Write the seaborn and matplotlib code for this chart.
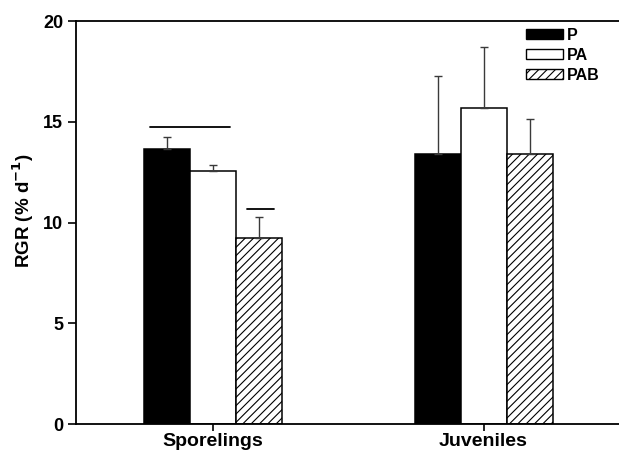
import numpy as np
import pandas as pd
import matplotlib
matplotlib.use("Agg")
import matplotlib.pyplot as plt
import seaborn as sns

stages = ["Sporelings", "Juveniles"]
treatments = ["P", "PA", "PAB"]
rgr_P = [13.65, 13.38]
rgr_PA = [12.54, 15.70]
rgr_PAB = [9.23, 13.42]
err_P = [0.61, 3.89]
err_PA = [0.33, 3.02]
err_PAB = [1.06, 1.73]
yticks = [0, 5, 10, 15, 20]
sig_y = [14.76, 10.67]

sns.set_theme(style="ticks")
plt.rcParams['font.family'] = ['Liberation Sans', 'DejaVu Sans']
plt.rcParams['font.weight'] = 'bold'
plt.rcParams['text.color'] = 'black'
plt.rcParams['axes.labelcolor'] = 'black'
plt.rcParams['xtick.color'] = 'black'
plt.rcParams['ytick.color'] = 'black'
plt.rcParams['hatch.linewidth'] = 0.8
plt.rcParams['mathtext.default'] = 'bf'

rows = []
for i, s in enumerate(stages):
    for t, vals in zip(treatments, [rgr_P, rgr_PA, rgr_PAB]):
        rows.append({"stage": s, "treat": t, "rgr": vals[i]})
df = pd.DataFrame(rows)
errs = {"P": err_P, "PA": err_PA, "PAB": err_PAB}

fig = plt.figure(figsize=(6.19, 4.53), dpi=100)
ax = fig.add_axes([0.1228, 0.064, 0.8772, 0.8896])

sns.barplot(data=df, x="stage", y="rgr", hue="treat", order=stages,
            hue_order=treatments, errorbar=None, width=0.51, ax=ax,
            palette={"P": "black", "PA": "white", "PAB": "white"},
            edgecolor="black", linewidth=1.1, saturation=1)

for cont, t in zip(ax.containers, treatments):
    xs = []
    ys = []
    for bar in cont:
        if t == "PAB":
            bar.set_hatch("////")
        xs.append(bar.get_x() + bar.get_width() / 2)
        ys.append(bar.get_height())
    e = errs[t]
    ax.errorbar(xs, ys, yerr=[np.zeros(len(e)), e], fmt="none",
                ecolor="#3a3a3a", elinewidth=1.0, capsize=2.9, capthick=1.0,
                zorder=1)

bars_P = ax.containers[0][0]
bars_PA = ax.containers[1][0]
bars_PAB = ax.containers[2][0]
x1 = bars_P.get_x() + 0.025
x2 = bars_PA.get_x() + bars_PA.get_width() - 0.022
ax.plot([x1, x2], [sig_y[0], sig_y[0]], color="black", lw=1.3)
x3 = bars_PAB.get_x() + 0.04
x4 = bars_PAB.get_x() + bars_PAB.get_width() - 0.03
ax.plot([x3, x4], [sig_y[1], sig_y[1]], color="black", lw=1.3)

ax.set_xlim(-0.505, 1.5)
ax.set_ylim(0, 20)
ax.set_yticks(yticks)
ax.set_yticklabels([str(v) for v in yticks], fontsize=13, fontweight="bold")
ax.set_xticks([0, 1])
ax.set_xticklabels(stages, fontsize=14, fontweight="bold")
ax.set_xlabel("")
ax.set_ylabel(r"RGR (% d$^{-1}$)", fontsize=13.5, fontweight="bold")
ax.yaxis.set_label_coords(-0.074, 0.53)
ax.tick_params(axis="y", direction="out", length=5.8, width=1.2, pad=3.4)
ax.tick_params(axis="x", direction="out", length=5.2, width=1.2, pad=1.5)
for sp in ["left", "bottom", "top"]:
    ax.spines[sp].set_visible(True)
    ax.spines[sp].set_linewidth(1.3)
    ax.spines[sp].set_color("black")
ax.spines["right"].set_visible(False)

leg = ax.legend(loc="upper left", bbox_to_anchor=(526 / 619, 1 - 28 / 453),
                bbox_transform=fig.transFigure, frameon=False,
                fontsize=11.5, handlelength=2.31, handleheight=0.57, labelspacing=0.3,
                handletextpad=0.22, borderaxespad=0, borderpad=0)
for txt in leg.get_texts():
    txt.set_fontweight("bold")
for h, t in zip(leg.legend_handles, treatments):
    h.set_edgecolor("black")
    h.set_linewidth(1.0)
    if t == "PAB":
        h.set_hatch("////")

fig.savefig("out.png", dpi=100)
